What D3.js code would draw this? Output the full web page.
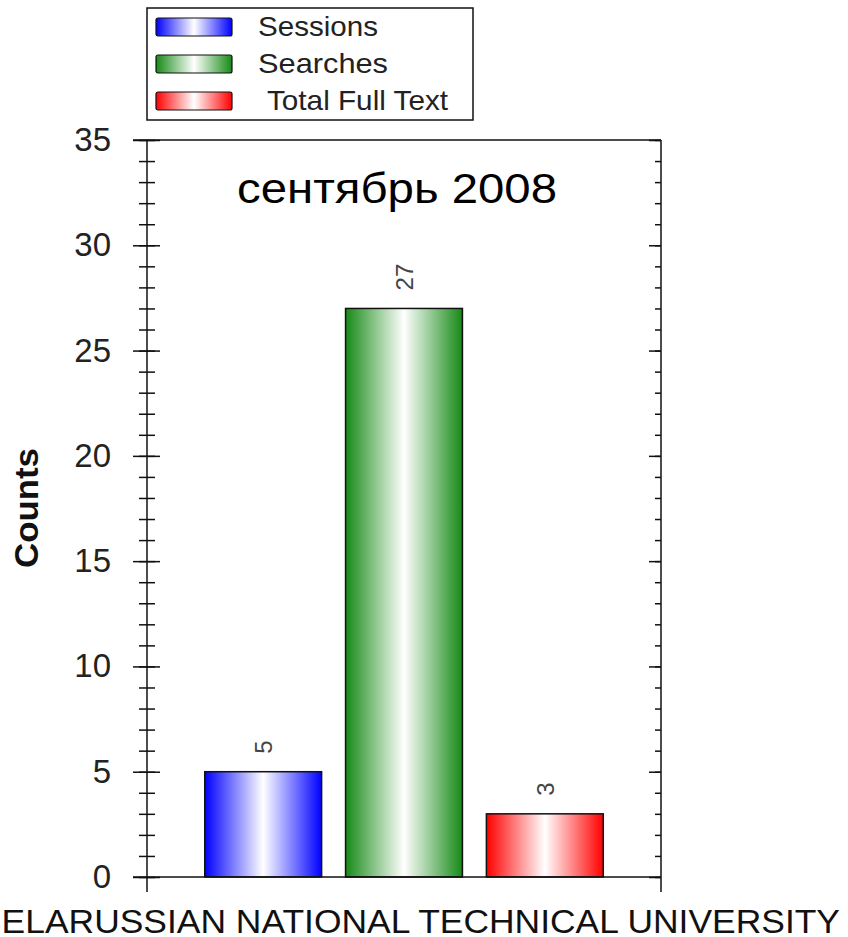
<!DOCTYPE html>
<html>
<head>
<meta charset="utf-8">
<script src="https://cdn.jsdelivr.net/npm/d3@7"></script>
<style>
  body { margin: 0; background: #fff; }
  svg { display: block; font-family: Arial, "Liberation Sans", sans-serif; }
</style>
</head>
<body>
<svg id="chart" width="848" height="937"></svg>
<script>
const categories = ['Sessions', 'Searches', 'Total Full Text'];
const counts = [5, 27, 3];
const barColors = ['#0000ff', '#168a16', '#ff0000'];
const majorTicks = [0, 5, 10, 15, 20, 25, 30, 35];
const minorTicks = d3.range(0, 36);
const chartTitle = 'сентябрь 2008';
const xTitle = 'BELARUSSIAN NATIONAL TECHNICAL UNIVERSITY';
const yTitle = 'Counts';

const LEFT = 147, RIGHT = 661, TOP = 140, BOTTOM = 877;

const svg = d3.select('#chart');

// gradients, dark at both sides, white in the middle
const defs = svg.append('defs');
barColors.forEach((c, i) => {
    const g = defs.append('linearGradient')
        .attr('id', 'grad' + i)
        .attr('x1', '0%').attr('x2', '100%')
        .attr('y1', '0%').attr('y2', '0%');
    g.append('stop').attr('offset', '0%').attr('stop-color', c);
    g.append('stop').attr('offset', '50%').attr('stop-color', '#ffffff');
    g.append('stop').attr('offset', '100%').attr('stop-color', c);
});

const x = d3.scaleBand()
    .domain(categories)
    .range([LEFT, RIGHT])
    .paddingInner(0.17)
    .paddingOuter(0.41);

const y = d3.scaleLinear()
    .domain([0, 35])
    .range([BOTTOM, TOP]);

// bars
svg.append('g')
    .selectAll('rect')
    .data(categories)
    .join('rect')
    .attr('x', d => x(d))
    .attr('y', (d, i) => y(counts[i]))
    .attr('width', x.bandwidth())
    .attr('height', (d, i) => y(0) - y(counts[i]))
    .attr('fill', (d, i) => `url(#grad${i})`)
    .attr('stroke', '#111')
    .attr('stroke-width', 1.5);

// value labels, rotated
svg.append('g')
    .selectAll('text')
    .data(categories)
    .join('text')
    .attr('transform', (d, i) =>
        `translate(${x(d) + x.bandwidth() / 2 + 9},${y(counts[i]) - 18}) rotate(-90)`)
    .attr('text-anchor', 'start')
    .attr('font-size', 24)
    .attr('fill', '#444')
    .text((d, i) => counts[i]);

// frame lines
svg.append('line')
    .attr('x1', LEFT - 14).attr('x2', RIGHT)
    .attr('y1', y(35)).attr('y2', y(35))
    .attr('stroke', '#111').attr('stroke-width', 1.5);
svg.append('line')
    .attr('x1', LEFT - 14).attr('x2', RIGHT)
    .attr('y1', y(0)).attr('y2', y(0))
    .attr('stroke', '#111').attr('stroke-width', 1.5);

// left axis: labels + outer part of ticks
const leftAxis = svg.append('g')
    .attr('transform', `translate(${LEFT},0)`)
    .call(d3.axisLeft(y).tickValues(majorTicks).tickSize(14).tickPadding(22).tickSizeOuter(0));
leftAxis.select('.domain').remove();
leftAxis.selectAll('text')
    .attr('font-size', 33)
    .attr('font-family', 'Arial, "Liberation Sans", sans-serif')
    .attr('fill', '#222');
// inner part of major ticks
svg.append('g')
    .attr('transform', `translate(${LEFT},0)`)
    .call(d3.axisRight(y).tickValues(majorTicks).tickSize(13).tickFormat('').tickSizeOuter(0))
    .select('.domain').remove();
// minor ticks crossing
svg.append('g')
    .attr('transform', `translate(${LEFT},0)`)
    .call(d3.axisLeft(y).tickValues(minorTicks).tickSize(8).tickFormat('').tickSizeOuter(0))
    .select('.domain').remove();
svg.append('g')
    .attr('transform', `translate(${LEFT},0)`)
    .call(d3.axisRight(y).tickValues(minorTicks).tickSize(8).tickFormat('').tickSizeOuter(0))
    .select('.domain').remove();

// right axis, ticks inward only
svg.append('g')
    .attr('transform', `translate(${RIGHT},0)`)
    .call(d3.axisLeft(y).tickValues(majorTicks).tickSize(12).tickFormat('').tickSizeOuter(0))
    .select('.domain').remove();
svg.append('g')
    .attr('transform', `translate(${RIGHT},0)`)
    .call(d3.axisLeft(y).tickValues(minorTicks).tickSize(6).tickFormat('').tickSizeOuter(0))
    .select('.domain').remove();

svg.selectAll('.tick line').attr('stroke', '#111').attr('stroke-width', 1.5);

// vertical axis lines, extending below zero
[LEFT, RIGHT].forEach(px => {
    svg.append('line')
        .attr('x1', px).attr('x2', px)
        .attr('y1', y(35)).attr('y2', y(0) + 15)
        .attr('stroke', '#111').attr('stroke-width', 1.5);
});

// title inside plot
svg.append('text')
    .attr('x', 237)
    .attr('y', 203)
    .attr('font-size', 43)
    .attr('fill', '#000')
    .attr('textLength', 320)
    .attr('lengthAdjust', 'spacingAndGlyphs')
    .text(chartTitle);

// axis titles
svg.append('text')
    .attr('transform', 'translate(38,508) rotate(-90)')
    .attr('text-anchor', 'middle')
    .attr('font-size', 34)
    .attr('font-weight', 'bold')
    .attr('fill', '#111')
    .attr('textLength', 120)
    .attr('lengthAdjust', 'spacingAndGlyphs')
    .text(yTitle);

svg.append('text')
    .attr('x', -22)
    .attr('y', 933)
    .attr('font-size', 33)
    .attr('fill', '#111')
    .attr('textLength', 862)
    .attr('lengthAdjust', 'spacingAndGlyphs')
    .text(xTitle);

// legend
const legend = svg.append('g').attr('transform', 'translate(147,8)');
legend.append('rect')
    .attr('width', 326).attr('height', 112)
    .attr('fill', '#fff').attr('stroke', '#111').attr('stroke-width', 1.5);
const legendWidths = [120, 130, 181];
const rows = legend.selectAll('g.row')
    .data(categories)
    .join('g')
    .attr('class', 'row')
    .attr('transform', (d, i) => `translate(9,${10 + i * 37})`);
rows.append('rect')
    .attr('width', 76).attr('height', 18).attr('rx', 2)
    .attr('fill', (d, i) => `url(#grad${i})`)
    .attr('stroke', '#111').attr('stroke-width', 1.2);
rows.append('text')
    .attr('x', (d, i) => i === 2 ? 111 : 102)
    .attr('y', 18)
    .attr('font-size', 28)
    .attr('fill', '#222')
    .attr('textLength', (d, i) => legendWidths[i])
    .attr('lengthAdjust', 'spacingAndGlyphs')
    .text(d => d);
</script>
</body>
</html>
